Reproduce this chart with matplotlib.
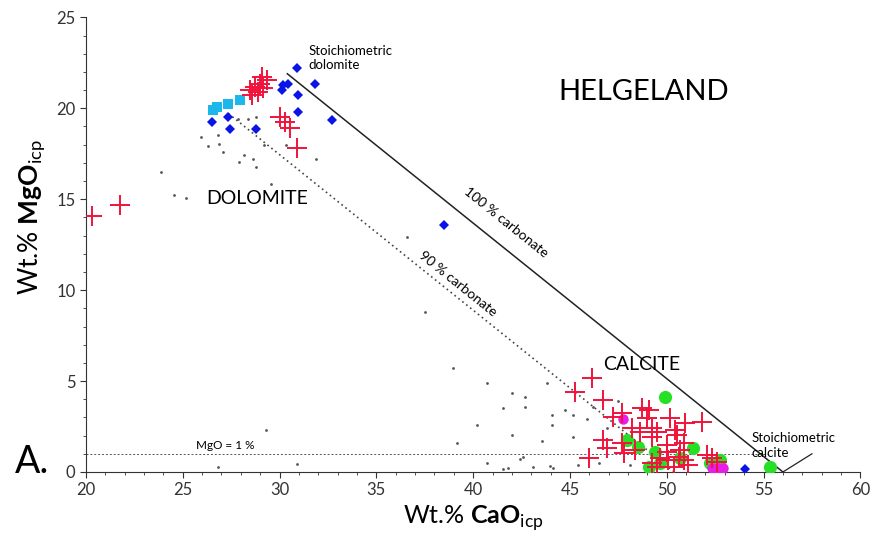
import matplotlib
matplotlib.use("Agg")
import matplotlib.pyplot as plt
import numpy as np

plt.rcParams['font.family'] = ['Lato', 'DejaVu Sans']
plt.rcParams['mathtext.fontset'] = 'custom'
plt.rcParams['mathtext.rm'] = 'Lato'
plt.rcParams['mathtext.bf'] = 'Lato:bold'

# --- data (Wt.% CaO, Wt.% MgO) ---
red_cao = [20.3, 21.76, 29.08, 29.34, 28.99, 28.73, 28.48, 28.56, 29.16, 28.9,
           30.03, 30.28, 30.54, 30.89,
           46.13, 45.27, 46.73, 47.25, 47.68, 48.72, 49.06, 48.97, 50.18, 50.95,
           51.82, 48.2, 48.63, 49.23, 49.49, 50.44, 50.52, 46.73, 47.68, 46.9,
           45.96, 47.77, 48.37, 49.23, 50.0, 50.87, 49.66, 50.09, 50.61, 50.87,
           51.12, 49.49, 50.35, 52.1, 52.33, 52.6, 50.0, 49.23, 50.7]
red_mgo = [14.1, 14.67, 21.72, 21.54, 21.36, 21.17, 20.99, 20.71, 21.1, 20.9,
           19.52, 19.25, 18.9, 17.79,
           5.15, 4.41, 3.96, 3.04, 3.22, 3.5, 3.41, 2.95, 2.95, 2.68,
           2.76, 2.4, 2.21, 2.4, 2.21, 2.31, 2.03, 1.76, 1.58, 1.3,
           0.75, 1.03, 1.21, 1.94, 1.48, 1.58, 0.75, 0.66, 0.84, 0.66,
           0.38, 0.29, 0.29, 0.93, 0.75, 0.57, 1.12, 0.48, 1.21]

blue_cao = [30.89, 31.83, 30.2, 30.46, 30.11, 30.97, 30.97, 32.7, 26.5, 27.36,
            27.44, 28.79, 38.5, 54.06]
blue_mgo = [22.23, 21.36, 21.26, 21.36, 20.99, 20.71, 19.8, 19.38, 19.25, 19.52,
            18.88, 18.85, 13.6, 0.16]

cyan_cao = [26.75, 27.36, 27.96, 26.56]
cyan_mgo = [20.07, 20.26, 20.44, 19.89]

green_cao = [49.92, 47.94, 48.54, 49.41, 51.38, 49.06, 49.66, 50.7, 52.25, 52.77, 55.35]
green_mgo = [4.14, 1.76, 1.39, 1.12, 1.3, 0.29, 0.48, 0.75, 0.48, 0.66, 0.29]

mag_cao = [47.72, 52.33, 52.67, 52.93]
mag_mgo = [2.89, 0.2, 0.2, 0.2]

gray_cao = [25.94, 26.29, 26.89, 27.06, 26.8, 28.18, 28.61, 27.92, 28.79, 23.88,
            29.56, 24.56, 25.17, 29.21, 30.34, 31.89, 27.84, 28.36, 28.79,
            36.57, 37.52, 38.98, 40.71, 42.0, 42.69, 43.81, 41.56, 42.69, 44.06,
            44.75, 45.18, 40.19, 44.06, 42.0, 45.18, 43.55, 39.15, 40.71, 42.43,
            42.57, 43.08, 43.98, 44.12, 41.82, 41.56, 45.44, 29.3, 26.8, 30.89,
            46.2, 46.9, 47.5, 45.9, 48.1, 46.5]
gray_mgo = [18.42, 17.91, 18.06, 17.6, 18.52, 17.42, 17.23, 17.05, 16.77, 16.5,
            15.86, 15.22, 15.09, 17.97, 17.97, 17.23, 19.43, 19.43, 19.52,
            12.93, 8.81, 5.7, 4.87, 4.32, 4.14, 4.87, 3.5, 3.59, 3.13,
            3.41, 3.13, 2.58, 2.58, 2.03, 1.9, 1.72, 1.61, 0.48, 0.71,
            0.81, 0.29, 0.33, 0.2, 0.24, 0.15, 0.38, 2.31, 0.26, 0.44,
            3.6, 2.4, 3.9, 2.9, 0.4, 0.5]

dolomite = (30.4, 21.9)
calcite = (56.0, 0.0)

fig = plt.figure(figsize=(8.77, 5.38), dpi=100)
ax = fig.add_axes([0.098, 0.1227, 0.883, 0.845])

# reference lines
ax.plot([dolomite[0], calcite[0]], [dolomite[1], calcite[1]], color='#222222', lw=1.1)
ax.plot([0.9 * dolomite[0], 0.9 * calcite[0]], [0.9 * dolomite[1], 0.0],
        color='#444444', lw=1.2, ls=(0, (1, 2)))
ax.plot([20, 55.2], [1, 1], color='#555555', lw=0.7, ls=(0, (2, 2)))
ax.plot([56.0, 57.5], [0.0, 1.0], color='#222222', lw=0.9)

# points
ax.plot(gray_cao, gray_mgo, 'o', ms=2, color='#555555', mew=0, zorder=3)
ax.plot(blue_cao, blue_mgo, 'D', ms=5.5, color='#0a14e6', mew=0, zorder=4)
ax.plot(cyan_cao, cyan_mgo, 's', ms=7, color='#1cb8ec', mew=0, zorder=4)
ax.plot(green_cao, green_mgo, 'o', ms=9.5, color='#26e026', mew=0, zorder=4)
ax.plot(mag_cao, mag_mgo, 'o', ms=7.5, color='#e81ee8', mew=0, zorder=5)
ax.plot(red_cao, red_mgo, '+', ms=15, mew=1.4, color='#f0143c', zorder=6)

# annotations
ax.text(31.5, 23.5, 'Stoichiometric\ndolomite', fontsize=9.5, va='top', ha='left', linespacing=1.25)
ax.text(54.4, 1.45, 'Stoichiometric\ncalcite', fontsize=9.5, va='center', ha='left', linespacing=1.25)
ax.text(44.4, 20.9, 'HELGELAND', fontsize=21, va='center', ha='left')
ax.text(26.2, 15.05, 'DOLOMITE', fontsize=14, va='center', ha='left')
ax.text(46.7, 5.9, 'CALCITE', fontsize=14, va='center', ha='left')
ax.text(27.2, 1.45, 'MgO = 1 %', fontsize=8.5, va='center', ha='center')
ax.text(41.7, 13.75, '100 % carbonate', fontsize=10, rotation=-38.8,
        rotation_mode='anchor', ha='center', va='center')
ax.text(39.2, 10.35, '90 % carbonate', fontsize=10, rotation=-38.8,
        rotation_mode='anchor', ha='center', va='center')

fig.text(0.017, 0.141, 'A.', fontsize=27, va='center', ha='left')

ax.set_xlim(20, 60)
ax.set_ylim(0, 25)
ax.set_xticks(np.arange(20, 61, 5))
ax.set_yticks(np.arange(0, 26, 5))
ax.set_xticks(np.arange(20, 61, 1), minor=True)
ax.set_yticks(np.arange(0, 26, 1), minor=True)
ax.tick_params(which='both', direction='out', color='#333333', labelsize=12, labelcolor='#333333')
ax.tick_params(which='major', length=4)
ax.tick_params(which='minor', length=2.5)
for s in ['top', 'right']:
    ax.spines[s].set_visible(False)
for s in ['left', 'bottom']:
    ax.spines[s].set_color('#333333')

ax.set_xlabel(r'Wt.% $\mathbf{CaO}_{\mathrm{icp}}$', fontsize=18, labelpad=4)
ax.set_ylabel(r'Wt.% $\mathbf{MgO}_{\mathrm{icp}}$', fontsize=19)
ax.yaxis.set_label_coords(-0.05, 0.56)

fig.savefig('out.png', dpi=100)
